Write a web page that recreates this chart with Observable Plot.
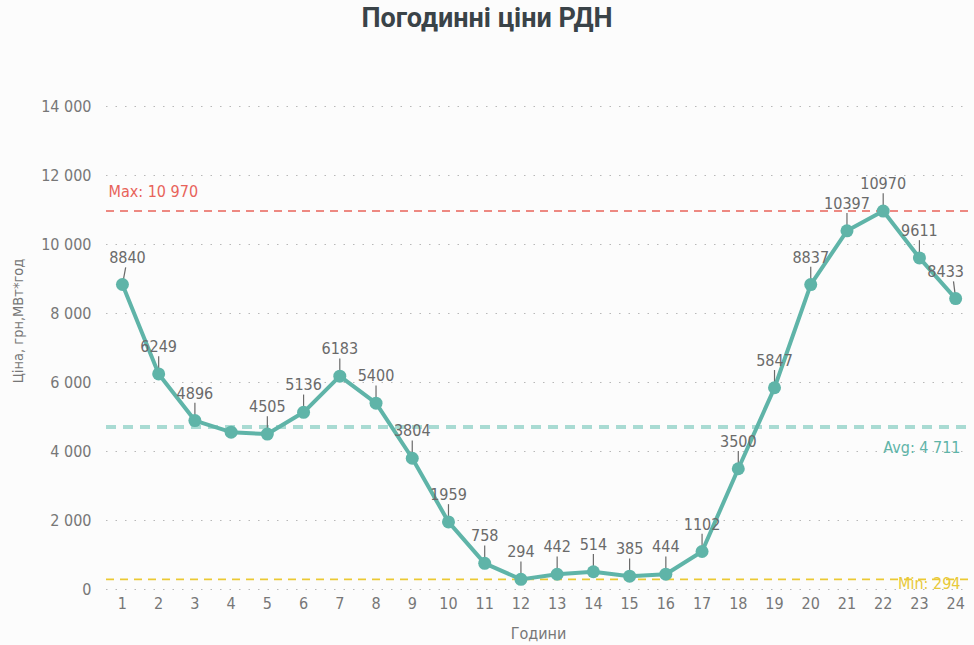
<!DOCTYPE html>
<html>
<head>
<meta charset="utf-8">
<script src="https://cdn.jsdelivr.net/npm/d3@7"></script>
<script src="https://cdn.jsdelivr.net/npm/@observablehq/plot@0.6"></script>
<style>
  html, body { margin: 0; padding: 0; background: #fcfcfc; }
  #title { height: 40px; line-height: 36px; text-align: center; font-family: Roboto, "Noto Sans", sans-serif; font-weight: 700; font-size: 27px; color: #3a4348; }
  #chart svg { display: block; }
</style>
</head>
<body>
<div id="title">Погодинні ціни РДН</div>
<div id="chart"></div>
<script>
const hours = [1,2,3,4,5,6,7,8,9,10,11,12,13,14,15,16,17,18,19,20,21,22,23,24];
const prices = [8840,6249,4896,4560,4505,5136,6183,5400,3804,1959,758,294,442,514,385,444,1102,3500,5847,8837,10397,10970,9611,8433];
const shownLabels = [true,true,true,false,true,true,true,true,true,true,true,true,true,true,true,true,true,true,true,true,true,true,true,true];
const yTicks = [0,2000,4000,6000,8000,10000,12000,14000];

const data = hours.map((h, i) => ({hour: h, price: prices[i], show: shownLabels[i], i}));
const avg = d3.mean(prices);
const maxV = d3.max(prices);
const minV = d3.min(prices);
const fmtSpace = v => d3.format(",")(Math.round(v)).replace(/,/g, " ");

const lineColor = "#5fb4a8";
const labelColor = "#6a6a6a";
const font = "'DejaVu Sans Condensed', 'DejaVu Sans', sans-serif";

const labeled = data.filter(d => d.show);
const mid = labeled.filter(d => d.i > 0 && d.i < 23);
const first = labeled.filter(d => d.i === 0);
const last = labeled.filter(d => d.i === 23);
const lead = 500;

const chart = Plot.plot({
  width: 974,
  height: 605,
  marginLeft: 106,
  marginRight: 4,
  marginTop: 66,
  marginBottom: 56,
  style: {fontFamily: font, background: "transparent"},
  x: {type: "linear", domain: [0.56, 24.41]},
  y: {domain: [0, 14000]},
  marks: [
    Plot.gridY(yTicks, {stroke: "#b8b8b8", strokeOpacity: 1, strokeDasharray: "1.5,8", strokeWidth: 1.2}),
    Plot.axisY(yTicks, {tickSize: 0, tickPadding: 15, tickFormat: fmtSpace, fontSize: 16, fill: "#777", label: null}),
    Plot.axisX(hours, {tickSize: 0, tickPadding: 8, tickFormat: d => String(d), fontSize: 16, fill: "#777", label: null}),
    Plot.text(["Години"], {frameAnchor: "bottom", dy: 44, fontSize: 16, fill: "#777", lineAnchor: "middle"}),
    Plot.text(["Ціна, грн,МВт*год"], {frameAnchor: "left", textAnchor: "middle", dx: -88, dy: -27, rotate: -90, fontSize: 14.5, fill: "#777", lineAnchor: "middle"}),
    Plot.ruleY([avg], {stroke: "#a9dbd3", strokeWidth: 4, strokeDasharray: "10,7"}),
    Plot.ruleY([maxV], {stroke: "#e8635a", strokeWidth: 1.6, strokeDasharray: "8,6"}),
    Plot.text([maxV], {y: d => d, frameAnchor: "left", dx: 2, dy: -19, textAnchor: "start", text: d => "Max: " + fmtSpace(d), fill: "#e8635a", fontSize: 16}),
    Plot.text([avg], {y: d => d, frameAnchor: "right", dx: -10, dy: 21, textAnchor: "end", text: d => "Avg: " + fmtSpace(Math.floor(d)), fill: lineColor, fontSize: 16}),
    Plot.text([minV], {y: d => d, frameAnchor: "right", dx: -10, dy: 5, textAnchor: "end", text: d => "Min: " + fmtSpace(d), fill: "#e8c93a", fontSize: 16}),
    Plot.ruleY([minV], {stroke: "#ebc934", strokeWidth: 1.6, strokeDasharray: "8,6"}),
    Plot.ruleX(mid, {x: "hour", y1: "price", y2: d => d.price + lead, stroke: labelColor, strokeWidth: 1.2}),
    Plot.link(first, {x1: "hour", y1: "price", x2: d => d.hour + 0.09, y2: d => d.price + lead, stroke: labelColor, strokeWidth: 1.2}),
    Plot.link(last, {x1: "hour", y1: "price", x2: d => d.hour - 0.06, y2: d => d.price + lead, stroke: labelColor, strokeWidth: 1.2}),
    Plot.line(data, {x: "hour", y: "price", stroke: lineColor, strokeWidth: 4, curve: "linear"}),
    Plot.dot(data, {x: "hour", y: "price", r: 6.5, fill: lineColor, stroke: null}),
    Plot.text(mid, {x: "hour", y: "price", text: d => String(d.price), dy: -27, fill: labelColor, fontSize: 16}),
    Plot.text(first, {x: "hour", y: "price", text: d => String(d.price), dy: -27, dx: 5, fill: labelColor, fontSize: 16}),
    Plot.text(last, {x: "hour", y: "price", text: d => String(d.price), dy: -27, dx: -10, fill: labelColor, fontSize: 16})
  ]
});
document.getElementById("chart").appendChild(chart);
</script>
</body>
</html>
